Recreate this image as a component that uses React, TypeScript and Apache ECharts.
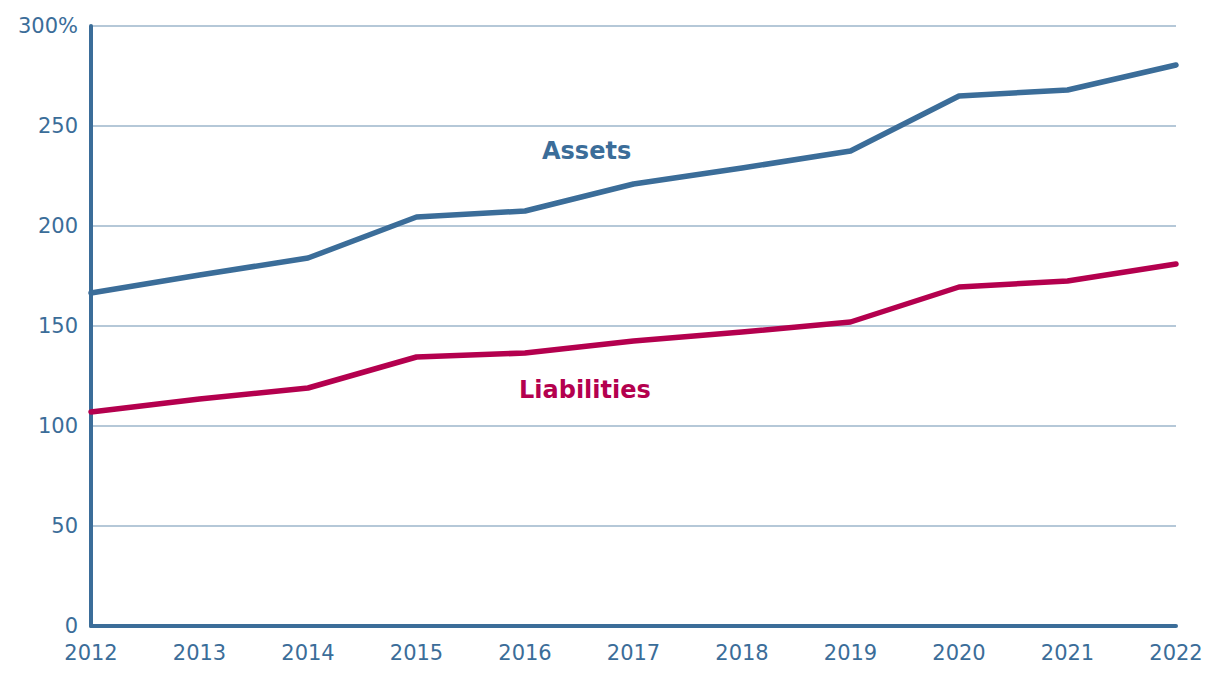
import React, { useEffect, useRef } from "react";
import * as echarts from "echarts";

const years = ["2012", "2013", "2014", "2015", "2016", "2017", "2018", "2019", "2020", "2021", "2022"];
const assets = [166.5, 175.5, 184, 204.5, 207.5, 221, 229, 237.5, 265, 268, 280.5];
const liabilities = [107, 113.5, 119, 134.5, 136.5, 142.5, 147, 152, 169.5, 172.5, 181];

const BLUE = "#3b6d99";
const RED = "#b4004e";
const GRID = "#9db6cb";
const FONT = "'DejaVu Sans', 'Open Sans', sans-serif";

export default function App() {
  const ref = useRef<HTMLDivElement>(null);
  useEffect(() => {
    const chart = echarts.init(ref.current!, null, { renderer: "svg" });
    chart.setOption({
      animation: false,
      grid: { left: 91, right: 44, top: 26, bottom: 52, containLabel: false },
      xAxis: {
        type: "category",
        data: years,
        boundaryGap: false,
        axisLine: { show: true, lineStyle: { color: BLUE, width: 4 } },
        axisTick: { show: false },
        axisLabel: { color: BLUE, fontSize: 21, lineHeight: 21, fontFamily: FONT, margin: 16 },
        splitLine: { show: false },
      },
      yAxis: {
        type: "value",
        min: 0,
        max: 300,
        interval: 50,
        axisLine: { show: true, lineStyle: { color: BLUE, width: 4 } },
        axisTick: { show: false },
        axisLabel: {
          color: BLUE,
          fontSize: 21,
          lineHeight: 21,
          fontFamily: FONT,
          margin: 13,
          formatter: (v: number) => (v === 300 ? "300%" : String(v)),
        },
        splitLine: { show: true, lineStyle: { color: GRID, width: 1.5 } },
      },
      series: [
        {
          name: "Assets",
          type: "line",
          data: assets,
          symbol: "none",
          lineStyle: { color: BLUE, width: 5.5, cap: "round", join: "round" },
          z: 3,
        },
        {
          name: "Liabilities",
          type: "line",
          data: liabilities,
          symbol: "none",
          lineStyle: { color: RED, width: 5.5, cap: "round", join: "round" },
          z: 3,
        },
      ],
      graphic: [
        {
          type: "text",
          left: 542,
          top: 139,
          style: { text: "Assets", fill: BLUE, font: `bold 24px ${FONT}` },
        },
        {
          type: "text",
          left: 519,
          top: 378,
          style: { text: "Liabilities", fill: RED, font: `bold 24px ${FONT}` },
        },
      ],
    });
    return () => chart.dispose();
  }, []);
  return <div ref={ref} style={{ width: 1220, height: 678, position: "absolute", left: 0, top: 0 }} />;
}
